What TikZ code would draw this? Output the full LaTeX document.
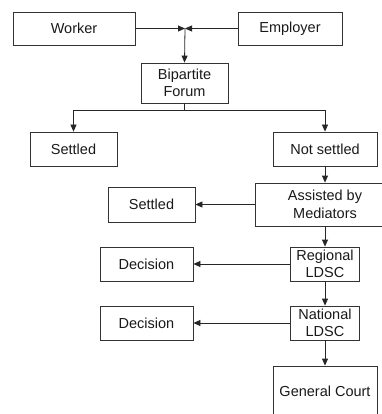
\documentclass[tikz,border=0pt]{standalone}
\usepackage{fontspec}
\setmainfont{Liberation Sans}
\usetikzlibrary{arrows.meta}

\begin{document}
\begin{tikzpicture}[x=1pt,y=-1pt,
  every node/.style={draw=black!80, line width=0.8pt, align=center, inner sep=1pt,
    font=\fontsize{14.5}{17.5}\selectfont, text=black!90},
  flow/.style={draw=black!85, line width=0.8pt, -{Triangle[length=7pt,width=6pt]}}]

\useasboundingbox (0,0) rectangle (381,414);

\node[minimum width=122pt, minimum height=33pt] (worker) at (74,28.5) {Worker};
\node[minimum width=104pt, minimum height=33pt] (employer) at (290,28.5) {Employer};
\node[minimum width=87pt, minimum height=40pt] (forum) at (184.5,83) {Bipartite\\Forum};
\node[minimum width=87pt, minimum height=34pt] (settled) at (73.5,149) {Settled};
\node[minimum width=104pt, minimum height=34pt] (notsettled) at (325,149) {Not settled};
\node[minimum width=140pt, minimum height=43pt] (mediators) at (325,204.5) {Assisted by\\Mediators};
\node[minimum width=87pt, minimum height=35pt] (settledb) at (151.5,204.5) {Settled};
\node[minimum width=69pt, minimum height=34pt] (regional) at (325,264) {Regional\\LDSC};
\node[minimum width=93pt, minimum height=34pt] (decisiona) at (146.5,264) {Decision};
\node[minimum width=69pt, minimum height=34pt] (national) at (325,323) {National\\LDSC};
\node[minimum width=93pt, minimum height=34pt] (decisionb) at (146.5,323) {Decision};
\node[minimum width=104pt, minimum height=50pt] (court) at (325,391) {General Court};

\coordinate (meet) at (185,28.5);
\coordinate (split) at (184.5,110);

\draw[flow] (worker.east) -- (meet);
\draw[flow] (employer.west) -- (meet);
\draw[flow] (meet) -- (forum.north);
\draw[flow] (forum.south) -- (split) -| (settled.north);
\draw[flow] (split) -| (notsettled.north);
\draw[flow] (notsettled) -- (mediators);
\draw[flow] (mediators) -- (settledb);
\draw[flow] (mediators) -- (regional);
\draw[flow] (regional) -- (decisiona);
\draw[flow] (regional) -- (national);
\draw[flow] (national) -- (decisionb);
\draw[flow] (national) -- (court);
\end{tikzpicture}
\end{document}
